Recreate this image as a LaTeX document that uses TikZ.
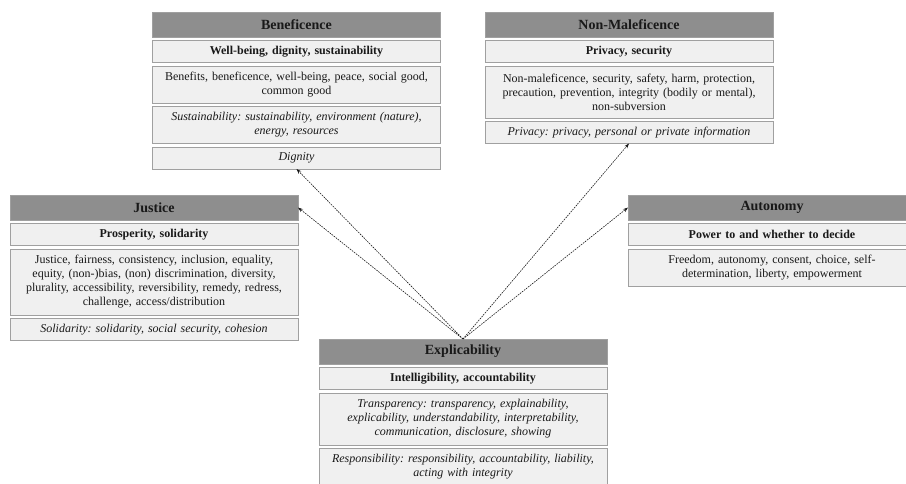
\documentclass[tikz,border=0pt]{standalone}
\usepackage{fontspec}
\setmainfont{Liberation Serif}
\frenchspacing
\usetikzlibrary{arrows.meta,positioning}
\definecolor{headgray}{RGB}{142,142,142}
\definecolor{rowgray}{RGB}{240,240,240}
\definecolor{edgegray}{RGB}{160,160,160}
\definecolor{inkgray}{RGB}{25,25,25}
\tikzset{
	head/.style={draw=edgegray,fill=headgray,line width=0.8pt,text width=280pt,inner xsep=4pt,
		minimum height=25pt,align=center,font=\fontsize{14}{16}\selectfont\bfseries,text=inkgray,outer sep=0pt},
	row/.style={draw=edgegray,fill=rowgray,line width=0.8pt,text width=280pt,inner xsep=4pt,inner ysep=2pt,
		minimum height=22pt,align=center,font=\fontsize{12}{14}\selectfont,text=inkgray,outer sep=0pt},
	keyrow/.style={row,font=\fontsize{12}{14}\selectfont\bfseries},
	link/.style={draw=inkgray,line width=0.6pt,dash pattern=on 1.6pt off 1pt,-{Stealth[length=5pt,width=3.5pt]}}
}
\begin{document}
\begin{tikzpicture}[x=1pt,y=-1pt,node distance=3.5pt]
	\clip (0,0) rectangle (906,484);
	\useasboundingbox (0,0) rectangle (906,484);
	% Beneficence
	\node[head,anchor=north] (ben) at (296.5,12) {Beneficence};
	\node[keyrow,below=of ben] (benkey) {Well-being, dignity, sustainability};
	\node[row,below=of benkey,minimum height=37pt] (benterms) {Benefits, beneficence, well-being, peace, social good,\\ common good};
	\node[row,below=of benterms,minimum height=37pt] (sust) {\itshape Sustainability: sustainability, environment (nature),\\ energy, resources};
	\node[row,below=of sust] (dign) {\itshape Dignity};
	% Non-Maleficence
	\node[head,anchor=north] (nonmal) at (629,12) {Non-Maleficence};
	\node[keyrow,below=of nonmal] (nonmalkey) {Privacy, security};
	\node[row,below=of nonmalkey,minimum height=52pt] (nonmalterms) {Non-maleficence, security, safety, harm, protection,\\ precaution, prevention, integrity (bodily or mental),\\ non-subversion};
	\node[row,below=of nonmalterms] (priv) {\itshape Privacy: privacy, personal or private information};
	% Justice
	\node[head,anchor=north] (just) at (154,195) {Justice};
	\node[keyrow,below=of just] (justkey) {Prosperity, solidarity};
	\node[row,below=of justkey,minimum height=66pt] (justterms) {Justice, fairness, consistency, inclusion, equality,\\ equity, (non-)bias, (non) discrimination, diversity,\\ plurality, accessibility, reversibility, remedy, redress,\\ challenge, access/distribution};
	\node[row,below=of justterms] (solid) {\itshape Solidarity: solidarity, social security, cohesion};
	% Autonomy
	\node[head,anchor=north] (auto) at (772,195) {Autonomy};
	\node[keyrow,below=of auto] (autokey) {Power to and whether to decide};
	\node[row,below=of autokey,minimum height=37pt] (autoterms) {Freedom, autonomy, consent, choice, self-\\ determination, liberty, empowerment};
	% Explicability
	\node[head,anchor=north] (expl) at (463,339) {Explicability};
	\node[keyrow,below=of expl] (explkey) {Intelligibility, accountability};
	\node[row,below=of explkey,minimum height=52pt] (transp) {\itshape Transparency: transparency, explainability,\\ explicability, understandability, interpretability,\\ communication, disclosure, showing};
	\node[row,below=of transp,minimum height=37pt] (resp) {\itshape Responsibility: responsibility, accountability, liability,\\ acting with integrity};
	% links
	\draw[link] (expl.north) -- (dign.south);
	\draw[link] (expl.north) -- (just.east);
	\draw[link] (expl.north) -- (priv.south);
	\draw[link] (expl.north) -- (auto.west);
\end{tikzpicture}
\end{document}
